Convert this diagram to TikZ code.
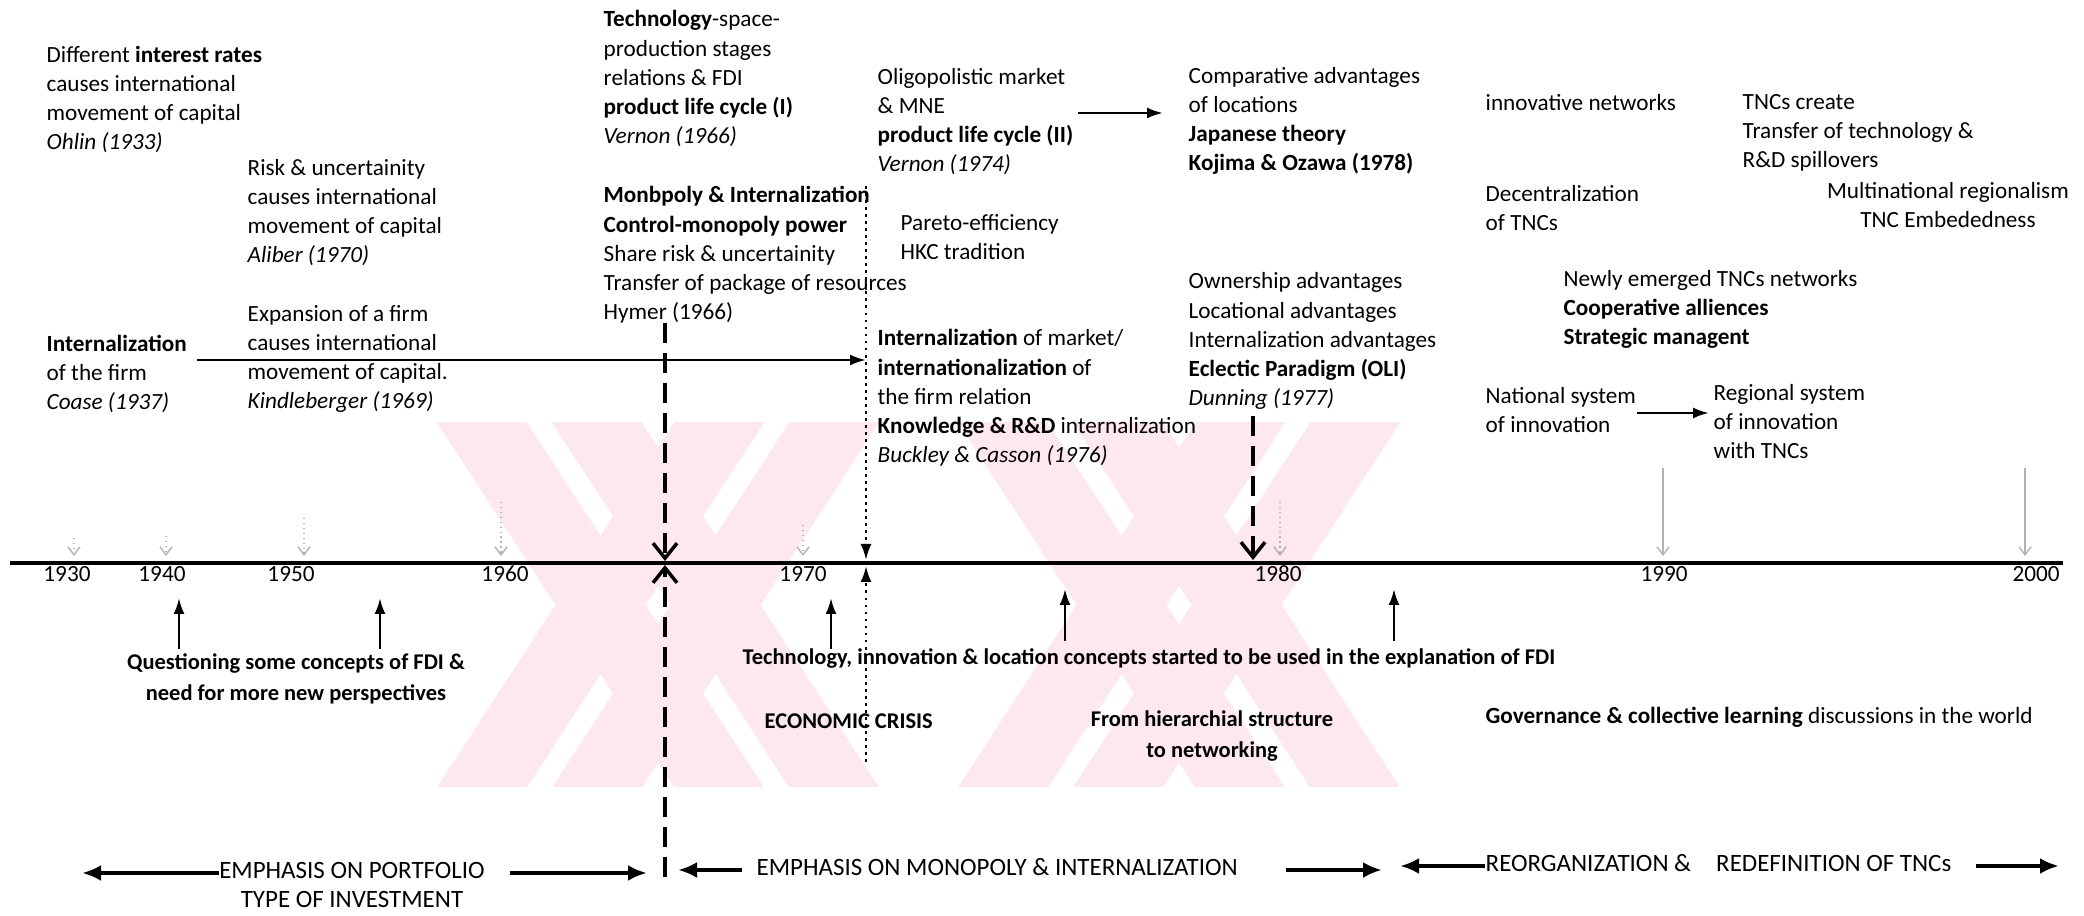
\documentclass[tikz,border=0pt]{standalone}
\usepackage{fontspec}
\setmainfont{Carlito}
\usetikzlibrary{arrows.meta}

\definecolor{wmpink}{RGB}{253,233,237}

% the base of a multi-line node is its last line
\tikzset{
  txt/.style={anchor=base west, align=left, inner sep=0pt, font=\fontsize{6.6}{8.34}\selectfont},
  ctxt/.style={txt, anchor=base, align=center},
  btxt/.style={txt, font=\fontsize{6.4}{9}\bfseries\selectfont},
  cbtxt/.style={btxt, anchor=base, align=center},
  captxt/.style={txt, font=\fontsize{7.1}{8.3}\selectfont},
  yearlabel/.style={anchor=base, inner sep=0pt, font=\fontsize{6.6}{8}\selectfont},
  filled arrow/.style={-{Latex[length=1.6mm,width=1.1mm]}, line width=0.7pt},
  emph arrow/.style={-{Latex[length=1.9mm,width=1.6mm]}, line width=1.3pt},
  open arrow/.style={-{Straight Barb[length=1.5mm,width=2.4mm]}},
  longdash/.style={line width=1pt, dash pattern=on 0.2cm off 0.1cm},
  dotline/.style={line width=1.3pt, dash pattern=on 0.8pt off 1.2pt},
  tick arrow/.style={-{Straight Barb[length=0.8mm,width=1.2mm]}, gray!60, densely dotted, line width=0.4pt},
}

\begin{document}
\begin{tikzpicture}[scale=1]
  \useasboundingbox (0,0) rectangle (20.84,-9.16);

  % Watermark
  \begin{scope}
    \clip (4.35,-4.23) rectangle (14.35,-7.87);
    \foreach \cx in {6.58, 11.79}{
      \foreach \o in {-0.575, 0.575}{
        \fill[wmpink] (\cx+\o-1.75,-4.05) -- (\cx+\o-0.85,-4.05) -- (\cx+\o+1.75,-8.05) -- (\cx+\o+0.85,-8.05) -- cycle;
        \fill[wmpink] (\cx+\o+0.85,-4.05) -- (\cx+\o+1.75,-4.05) -- (\cx+\o-0.85,-8.05) -- (\cx+\o-1.75,-8.05) -- cycle;
      }
    }
  \end{scope}

  % Time axis
  \coordinate (axisL) at (0.10,-5.63);
  \coordinate (axisR) at (20.63,-5.63);
  \draw[line width=1.2pt] (axisL) -- (axisR);
  \foreach \yr/\x in {1930/0.67, 1940/1.62, 1950/2.91, 1960/5.05, 1970/8.03, 1980/12.78, 1990/16.64, 2000/20.36}
    \node[yearlabel] (y\yr) at (\x,-5.82) {\yr};

  % Faint marks over the years
  \foreach \x/\t in {0.74/-5.38, 1.66/-5.36, 3.04/-5.18, 5.01/-5.02, 8.03/-5.25, 12.80/-5.02}
    \draw[tick arrow] (\x,\t) -- (\x,-5.56);
  \foreach \x in {16.63, 20.25}
    \draw[tick arrow, solid] (\x,-4.68) -- (\x,-5.56);

  % Upper texts
  \node[txt] (ohlin) at (0.46,-1.50) {Different \textbf{interest rates}\\causes international\\movement of capital\\\textit{Ohlin (1933)}};
  \node[txt] (aliber) at (2.47,-2.63) {Risk \& uncertainity\\causes international\\movement of capital\\\textit{Aliber (1970)}};
  \node[txt] (vernonI) at (6.03,-1.44) {\textbf{Technology}-space-\\production stages\\relations \& FDI\\\textbf{product life cycle (I)}\\\textit{Vernon (1966)}};
  \node[txt] (hymer) at (6.03,-3.20) {\textbf{Monbpoly \& Internalization}\\\textbf{Control-monopoly power}\\Share risk \& uncertainity\\Transfer of package of resources\\Hymer (1966)};
  \node[txt] (vernonII) at (8.77,-1.72) {Oligopolistic market\\\& MNE\\\textbf{product life cycle (II)}\\\textit{Vernon (1974)}};
  \node[txt] (kojima) at (11.88,-1.71) {Comparative advantages\\of locations\\\textbf{Japanese theory}\\\textbf{Kojima \& Ozawa (1978)}};
  \node[txt] (pareto) at (9.00,-2.60) {Pareto-efficiency\\HKC tradition};
  \node[txt] (innov) at (14.85,-1.11) {innovative networks};
  \node[txt] (decentral) at (14.85,-2.31) {Decentralization\\of TNCs};
  \node[txt] (spill) at (17.42,-1.68) {TNCs create\\Transfer of technology \&\\R\&D spillovers};
  \node[ctxt] (region) at (19.48,-2.28) {Multinational regionalism\\TNC Embededness};
  \node[txt] (alliance) at (15.63,-3.45) {Newly emerged TNCs networks\\\textbf{Cooperative alliences}\\\textbf{Strategic managent}};
  \node[txt] (dunning) at (11.88,-4.06) {Ownership advantages\\Locational advantages\\Internalization advantages\\\textbf{Eclectic Paradigm (OLI)}\\\textit{Dunning (1977)}};
  \node[txt] (nsi) at (14.85,-4.33) {National system\\of innovation};
  \node[txt] (rsi) at (17.13,-4.59) {Regional system\\of innovation\\with TNCs};
  \node[txt] (coase) at (0.46,-4.10) {\textbf{Internalization}\\of the firm\\\textit{Coase (1937)}};
  \node[txt] (kindle) at (2.47,-4.09) {Expansion of a firm\\causes international\\movement of capital.\\\textit{Kindleberger (1969)}};
  \node[txt] (buckley) at (8.77,-4.63) {\textbf{Internalization} of market/\\\textbf{internationalization} of\\the firm relation\\\textbf{Knowledge \& R\&D} internalization\\\textit{Buckley \& Casson (1976)}};

  % Arrows between theories
  \coordinate (mneEnd) at (11.63,-1.13);
  \draw[filled arrow] (10.78,-1.13) -- (mneEnd);
  \coordinate (nsiEnd) at (17.09,-4.13);
  \draw[filled arrow] (16.37,-4.13) -- (nsiEnd);
  \coordinate (firmStart) at (1.97,-3.60);
  \coordinate (firmEnd) at (8.66,-3.60);
  \draw[filled arrow] (firmStart) -- (firmEnd);

  % Vertical lines to the axis
  \coordinate (hymerTop) at (6.65,-3.23);
  \coordinate (hymerBot) at (6.65,-8.77);
  \draw[longdash, open arrow] (hymerTop) -- (6.65,-5.61);
  \draw[longdash, open arrow] (hymerBot) -- (6.65,-5.65);
  \coordinate (dotTop) at (8.66,-1.86);
  \coordinate (dotBot) at (8.66,-7.62);
  \draw[dotline, filled arrow] (dotTop) -- (8.66,-5.60);
  \draw[dotline, filled arrow] (dotBot) -- (8.66,-5.66);
  \coordinate (dunTop) at (12.53,-4.16);
  \draw[longdash, open arrow] (dunTop) -- (12.53,-5.60);

  % Arrows from below
  \foreach \x/\b/\t in {1.79/-6.49/-5.98, 3.80/-6.49/-5.98, 8.31/-6.49/-5.98, 10.65/-6.41/-5.89, 13.94/-6.41/-5.89}
    \draw[filled arrow] (\x,\b) -- (\x,\t);

  % Lower texts
  \node[cbtxt] (question) at (2.96,-7.01) {Questioning some concepts of FDI \&\\need for more new perspectives};
  \node[btxt] (techloc) at (7.42,-6.65) {Technology, innovation \& location concepts started to be used in the explanation of FDI};
  \node[btxt] (crisis) at (7.64,-7.29) {ECONOMIC CRISIS};
  \node[cbtxt] (hier) at (12.12,-7.58) {From hierarchial structure\\to networking};
  \node[txt] (govern) at (14.85,-7.24) {\textbf{Governance \& collective learning} discussions in the world};

  % Periods
  \node[captxt, anchor=base, align=center] (portfolio) at (3.52,-9.08) {EMPHASIS ON PORTFOLIO\\TYPE OF INVESTMENT};
  \node[captxt] (monopoly) at (7.56,-8.76) {EMPHASIS ON MONOPOLY \& INTERNALIZATION};
  \node[captxt] (reorg) at (14.85,-8.72) {REORGANIZATION \&\quad REDEFINITION OF TNCs};
  \foreach \a/\b/\y in {2.19/0.82/-8.73, 5.10/6.47/-8.73, 7.42/6.78/-8.70, 12.86/13.82/-8.70, 14.85/14.00/-8.66, 19.76/20.59/-8.66}
    \draw[emph arrow] (\a,\y) -- (\b,\y);

\end{tikzpicture}
\end{document}
